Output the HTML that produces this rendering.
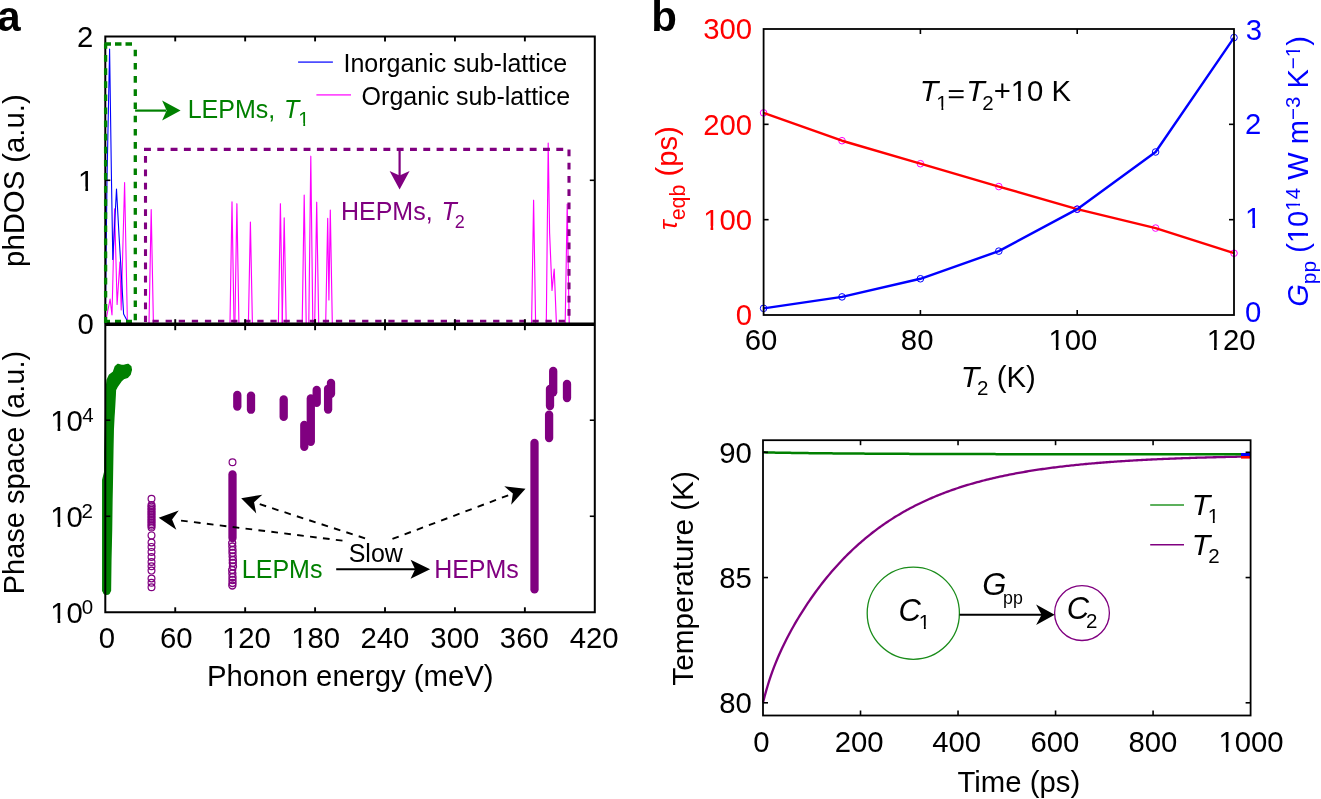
<!DOCTYPE html>
<html><head><meta charset="utf-8"><style>
html,body{margin:0;padding:0;background:#fff;overflow:hidden;}
svg{display:block;will-change:transform;}
text{font-family:"Liberation Sans",sans-serif;}
</style></head><body>
<svg width="1321" height="799" viewBox="0 0 1321 799">
<rect width="1321" height="799" fill="#fff"/>
<text x="-2.86" y="30.50" font-size="42" font-weight="bold" fill="#000" text-anchor="start">a</text>
<text x="651.27" y="30.50" font-size="42" font-weight="bold" fill="#000" text-anchor="start">b</text>
<polyline points="105.30,324.00 106.00,320.00 110.10,299.00 112.00,315.00 114.60,208.80 117.10,304.50 119.90,262.00 121.20,310.00 124.60,182.50 127.40,323.00 129.00,323.50" fill="none" stroke="#ff00ff" stroke-width="1.1" stroke-linejoin="round"/>
<polyline points="149.00,323.30 151.20,209.60 153.40,323.30" fill="none" stroke="#ff00ff" stroke-width="1.15" stroke-linejoin="round"/>
<polyline points="230.00,323.30 232.00,201.90 234.00,323.30" fill="none" stroke="#ff00ff" stroke-width="1.15" stroke-linejoin="round"/>
<polyline points="234.90,323.30 236.90,203.70 238.90,323.30" fill="none" stroke="#ff00ff" stroke-width="1.15" stroke-linejoin="round"/>
<polyline points="248.40,323.30 250.40,222.10 252.40,323.30" fill="none" stroke="#ff00ff" stroke-width="1.15" stroke-linejoin="round"/>
<polyline points="278.40,323.30 280.40,203.70 282.40,323.30" fill="none" stroke="#ff00ff" stroke-width="1.15" stroke-linejoin="round"/>
<polyline points="282.20,323.30 284.20,217.90 286.20,323.30" fill="none" stroke="#ff00ff" stroke-width="1.15" stroke-linejoin="round"/>
<polyline points="302.20,323.30 304.20,195.10 306.20,323.30" fill="none" stroke="#ff00ff" stroke-width="1.15" stroke-linejoin="round"/>
<polyline points="308.80,323.30 310.80,156.20 312.80,323.30" fill="none" stroke="#ff00ff" stroke-width="1.15" stroke-linejoin="round"/>
<polyline points="314.70,323.30 316.70,202.20 318.70,323.30" fill="none" stroke="#ff00ff" stroke-width="1.15" stroke-linejoin="round"/>
<polyline points="531.60,323.30 533.60,200.20 535.60,323.30" fill="none" stroke="#ff00ff" stroke-width="1.15" stroke-linejoin="round"/>
<polyline points="565.20,323.30 567.20,204.00 569.20,323.30" fill="none" stroke="#ff00ff" stroke-width="1.15" stroke-linejoin="round"/>
<polyline points="325.70,323.30 327.70,218.40 328.90,300.00 330.30,210.10 332.30,323.30" fill="none" stroke="#ff00ff" stroke-width="1.15" stroke-linejoin="round"/>
<polyline points="546.30,323.30 548.20,143.00 549.60,232.80 552.00,290.40 554.20,269.00 556.40,323.30" fill="none" stroke="#ff00ff" stroke-width="1.15" stroke-linejoin="round"/>
<polyline points="105.30,324.00 107.00,180.00 109.60,49.00 111.40,175.00 112.80,259.40 116.50,189.00 119.00,235.00 120.80,265.00 123.60,314.00 127.40,321.30 131.00,323.50" fill="none" stroke="#0000ff" stroke-width="1.1" stroke-linejoin="round"/>
<line x1="135.10" y1="110.60" x2="166.00" y2="110.60" stroke="#008000" stroke-width="2.2"/>
<path d="M180.60,110.60 L162.10,120.60 L166.60,110.60 L162.10,100.60 Z" fill="#008000"/>
<line x1="399.60" y1="149.00" x2="399.60" y2="176.00" stroke="#800080" stroke-width="2.2"/>
<path d="M399.60,189.60 L389.60,171.10 L399.60,175.60 L409.60,171.10 Z" fill="#800080"/>
<line x1="298.10" y1="62.10" x2="332.90" y2="62.10" stroke="#4d4dff" stroke-width="1.7"/>
<line x1="316.40" y1="94.80" x2="351.00" y2="94.80" stroke="#ff4dff" stroke-width="1.7"/>
<text x="343.49" y="72.00" font-size="25.0" fill="#000" text-anchor="start">Inorganic sub-lattice</text>
<text x="361.61" y="104.80" font-size="25.0" fill="#000" text-anchor="start">Organic sub-lattice</text>
<text x="187.64" y="117.60" font-size="25.0" fill="#008000" text-anchor="start">LEPMs, </text>
<text x="284.11" y="117.60" font-size="25.0" font-style="italic" fill="#008000" xml:space="preserve">T</text>
<text x="298.32" y="126.10" font-size="20" fill="#008000" xml:space="preserve">1</text>
<rect x="298.32" y="123.00" width="4.98" height="4.40" fill="#fff"/>
<rect x="305.14" y="123.00" width="4.18" height="4.40" fill="#fff"/>
<text x="340.94" y="219.60" font-size="25.0" fill="#800080" text-anchor="start">HEPMs, </text>
<text x="441.56" y="219.60" font-size="25.0" font-style="italic" fill="#800080" xml:space="preserve">T</text>
<text x="454.85" y="228.40" font-size="18" fill="#800080" xml:space="preserve">2</text>
<path d="M102.8,591.0 L102.8,480.0 L104.8,472.0 L104.9,452.0 L105.6,420.0 L106.0,392.0 L107.2,380.0 L109.5,375.0 L113.5,372.0 L115.4,366.5 L118.0,364.4 L121.5,365.5 L124.5,365.3 L128.0,364.4 L130.7,366.5 L131.3,369.8 L130.0,374.5 L127.5,377.2 L123.5,378.6 L121.0,381.0 L117.5,386.0 L115.4,390.0 L115.0,398.0 L114.5,407.0 L113.8,418.0 L113.2,430.0 L112.8,450.0 L112.3,480.0 L111.9,500.0 L111.5,530.0 L110.8,560.0 L110.4,591.0 Z" fill="#008000" stroke="#008000" stroke-width="1.5" stroke-linejoin="round"/>
<circle cx="106.60" cy="591.00" r="3.90" fill="#008000" stroke="none" stroke-width="0"/>
<circle cx="151.50" cy="498.70" r="3.40" fill="none" stroke="#800080" stroke-width="1.2"/>
<circle cx="151.50" cy="505.00" r="3.40" fill="none" stroke="#800080" stroke-width="1.2"/>
<circle cx="151.50" cy="506.60" r="3.40" fill="none" stroke="#800080" stroke-width="1.2"/>
<circle cx="151.50" cy="508.20" r="3.40" fill="none" stroke="#800080" stroke-width="1.2"/>
<circle cx="151.50" cy="509.80" r="3.40" fill="none" stroke="#800080" stroke-width="1.2"/>
<circle cx="151.50" cy="511.40" r="3.40" fill="none" stroke="#800080" stroke-width="1.2"/>
<circle cx="151.50" cy="513.00" r="3.40" fill="none" stroke="#800080" stroke-width="1.2"/>
<circle cx="151.50" cy="514.60" r="3.40" fill="none" stroke="#800080" stroke-width="1.2"/>
<circle cx="151.50" cy="516.20" r="3.40" fill="none" stroke="#800080" stroke-width="1.2"/>
<circle cx="151.50" cy="517.80" r="3.40" fill="none" stroke="#800080" stroke-width="1.2"/>
<circle cx="151.50" cy="519.40" r="3.40" fill="none" stroke="#800080" stroke-width="1.2"/>
<circle cx="151.50" cy="521.00" r="3.40" fill="none" stroke="#800080" stroke-width="1.2"/>
<circle cx="151.50" cy="522.60" r="3.40" fill="none" stroke="#800080" stroke-width="1.2"/>
<circle cx="151.50" cy="524.20" r="3.40" fill="none" stroke="#800080" stroke-width="1.2"/>
<circle cx="151.50" cy="525.80" r="3.40" fill="none" stroke="#800080" stroke-width="1.2"/>
<circle cx="151.50" cy="527.40" r="3.40" fill="none" stroke="#800080" stroke-width="1.2"/>
<circle cx="151.50" cy="535.40" r="3.40" fill="none" stroke="#800080" stroke-width="1.2"/>
<circle cx="151.50" cy="542.50" r="3.40" fill="none" stroke="#800080" stroke-width="1.2"/>
<circle cx="151.50" cy="546.90" r="3.40" fill="none" stroke="#800080" stroke-width="1.2"/>
<circle cx="151.50" cy="551.90" r="3.40" fill="none" stroke="#800080" stroke-width="1.2"/>
<circle cx="151.50" cy="557.00" r="3.40" fill="none" stroke="#800080" stroke-width="1.2"/>
<circle cx="151.50" cy="562.00" r="3.40" fill="none" stroke="#800080" stroke-width="1.2"/>
<circle cx="151.50" cy="566.30" r="3.40" fill="none" stroke="#800080" stroke-width="1.2"/>
<circle cx="151.50" cy="570.60" r="3.40" fill="none" stroke="#800080" stroke-width="1.2"/>
<circle cx="151.50" cy="578.50" r="3.40" fill="none" stroke="#800080" stroke-width="1.2"/>
<circle cx="151.50" cy="582.80" r="3.40" fill="none" stroke="#800080" stroke-width="1.2"/>
<circle cx="151.50" cy="587.20" r="3.40" fill="none" stroke="#800080" stroke-width="1.2"/>
<circle cx="232.50" cy="462.20" r="3.40" fill="none" stroke="#800080" stroke-width="1.2"/>
<line x1="232.50" y1="474.50" x2="232.50" y2="538.00" stroke="#800080" stroke-width="8.3" stroke-linecap="round"/>
<circle cx="232.20" cy="543.00" r="3.50" fill="none" stroke="#800080" stroke-width="1.4"/>
<circle cx="232.35" cy="546.50" r="3.50" fill="none" stroke="#800080" stroke-width="1.4"/>
<circle cx="232.50" cy="550.00" r="3.50" fill="none" stroke="#800080" stroke-width="1.4"/>
<circle cx="232.50" cy="553.00" r="3.50" fill="none" stroke="#800080" stroke-width="1.4"/>
<circle cx="232.65" cy="556.50" r="3.50" fill="none" stroke="#800080" stroke-width="1.4"/>
<circle cx="232.80" cy="560.00" r="3.50" fill="none" stroke="#800080" stroke-width="1.4"/>
<circle cx="232.80" cy="563.00" r="3.50" fill="none" stroke="#800080" stroke-width="1.4"/>
<circle cx="232.95" cy="566.50" r="3.50" fill="none" stroke="#800080" stroke-width="1.4"/>
<circle cx="232.20" cy="570.00" r="3.50" fill="none" stroke="#800080" stroke-width="1.4"/>
<circle cx="232.35" cy="573.50" r="3.50" fill="none" stroke="#800080" stroke-width="1.4"/>
<circle cx="232.50" cy="577.00" r="3.50" fill="none" stroke="#800080" stroke-width="1.4"/>
<circle cx="232.50" cy="580.00" r="3.50" fill="none" stroke="#800080" stroke-width="1.4"/>
<circle cx="232.50" cy="583.00" r="3.50" fill="none" stroke="#800080" stroke-width="1.4"/>
<circle cx="232.35" cy="585.50" r="3.50" fill="none" stroke="#800080" stroke-width="1.4"/>
<line x1="237.30" y1="395.00" x2="237.30" y2="406.60" stroke="#800080" stroke-width="8.3" stroke-linecap="round"/>
<line x1="251.00" y1="395.60" x2="251.00" y2="409.70" stroke="#800080" stroke-width="8.3" stroke-linecap="round"/>
<line x1="283.70" y1="399.50" x2="283.70" y2="416.90" stroke="#800080" stroke-width="8.3" stroke-linecap="round"/>
<line x1="304.30" y1="425.00" x2="304.30" y2="446.80" stroke="#800080" stroke-width="8.3" stroke-linecap="round"/>
<line x1="310.80" y1="398.40" x2="310.80" y2="441.80" stroke="#800080" stroke-width="8.3" stroke-linecap="round"/>
<line x1="316.70" y1="389.90" x2="316.70" y2="402.90" stroke="#800080" stroke-width="8.3" stroke-linecap="round"/>
<line x1="328.10" y1="388.80" x2="328.10" y2="409.50" stroke="#800080" stroke-width="8.3" stroke-linecap="round"/>
<line x1="331.00" y1="382.90" x2="331.00" y2="393.80" stroke="#800080" stroke-width="8.3" stroke-linecap="round"/>
<line x1="534.50" y1="442.90" x2="534.50" y2="589.40" stroke="#800080" stroke-width="8.3" stroke-linecap="round"/>
<line x1="549.10" y1="414.70" x2="549.10" y2="438.00" stroke="#800080" stroke-width="8.3" stroke-linecap="round"/>
<line x1="550.00" y1="389.00" x2="550.00" y2="406.00" stroke="#800080" stroke-width="8.3" stroke-linecap="round"/>
<line x1="553.20" y1="370.90" x2="553.20" y2="392.30" stroke="#800080" stroke-width="8.3" stroke-linecap="round"/>
<line x1="567.00" y1="384.00" x2="567.00" y2="398.00" stroke="#800080" stroke-width="8.3" stroke-linecap="round"/>
<path d="M158.70,517.80 L178.76,510.42 L172.10,519.47 L176.34,529.87 Z" fill="#000"/>
<path d="M181.03,520.58 L187.68,521.40 M193.93,522.18 L200.58,523.01 M206.83,523.79 L213.48,524.61 M219.73,525.39 L226.38,526.22 M232.63,527.00 L239.28,527.82 M245.53,528.60 L252.18,529.43 M258.43,530.21 L265.08,531.03 M271.33,531.81 L277.98,532.64 M284.23,533.42 L290.88,534.24 M297.13,535.02 L303.78,535.85 M310.03,536.63 L316.68,537.45 M322.93,538.23 L329.58,539.06 M335.83,539.84 L342.48,540.66" stroke="#000" stroke-width="1.9" fill="none"/>
<path d="M241.20,498.20 L262.30,494.73 L254.04,502.36 L256.26,513.38 Z" fill="#000"/>
<path d="M259.75,504.21 L266.13,506.27 M272.12,508.21 L278.49,510.28 M284.49,512.22 L290.86,514.28 M296.85,516.23 L303.23,518.29 M309.22,520.23 L315.59,522.30 M321.59,524.24 L327.96,526.30 M333.96,528.24 L340.33,530.31 M346.32,532.25 L352.70,534.31 M358.69,536.26 L365.06,538.32" stroke="#000" stroke-width="1.9" fill="none"/>
<path d="M525.50,488.80 L511.18,504.67 L512.87,493.56 L504.26,486.33 Z" fill="#000"/>
<path d="M508.19,495.32 L501.92,497.69 M496.02,499.91 L489.75,502.27 M483.86,504.49 L477.59,506.86 M471.69,509.08 L465.42,511.44 M459.53,513.66 L453.26,516.02 M447.36,518.25 L441.09,520.61 M435.20,522.83 L428.93,525.19 M423.03,527.41 L416.76,529.78 M410.87,532.00 L404.60,534.36 M398.70,536.58 L392.44,538.95" stroke="#000" stroke-width="1.9" fill="none"/>
<line x1="336.20" y1="569.30" x2="415.00" y2="569.30" stroke="#000" stroke-width="2"/>
<path d="M430.10,569.30 L410.60,578.80 L415.10,569.30 L410.60,559.80 Z" fill="#000"/>
<text x="348.68" y="561.70" font-size="25.0" fill="#000" text-anchor="start">Slow</text>
<text x="241.84" y="577.50" font-size="25.0" fill="#008000" text-anchor="start">LEPMs</text>
<text x="434.14" y="578.40" font-size="25.0" fill="#800080" text-anchor="start">HEPMs</text>
<path d="M104.00,321.40 L110.00,321.40 M115.00,321.40 L121.00,321.40 M126.00,321.40 L132.00,321.40" stroke="#008000" stroke-width="3.2" fill="none"/>
<path d="M152.50,321.20 L158.80,321.20 M165.60,321.20 L171.90,321.20 M178.70,321.20 L185.00,321.20 M191.80,321.20 L198.10,321.20 M204.90,321.20 L211.20,321.20 M218.00,321.20 L224.30,321.20 M231.10,321.20 L237.40,321.20 M244.20,321.20 L250.50,321.20 M257.30,321.20 L263.60,321.20 M270.40,321.20 L276.70,321.20 M283.50,321.20 L289.80,321.20 M296.60,321.20 L302.90,321.20 M309.70,321.20 L316.00,321.20 M322.80,321.20 L329.10,321.20 M335.90,321.20 L342.20,321.20 M349.00,321.20 L355.30,321.20 M362.10,321.20 L368.40,321.20 M375.20,321.20 L381.50,321.20 M388.30,321.20 L394.60,321.20 M401.40,321.20 L407.70,321.20 M414.50,321.20 L420.80,321.20 M427.60,321.20 L433.90,321.20 M440.70,321.20 L447.00,321.20 M453.80,321.20 L460.10,321.20 M466.90,321.20 L473.20,321.20 M480.00,321.20 L486.30,321.20 M493.10,321.20 L499.40,321.20 M506.20,321.20 L512.50,321.20 M519.30,321.20 L525.60,321.20 M532.40,321.20 L538.70,321.20 M545.50,321.20 L551.80,321.20 M558.60,321.20 L564.90,321.20" stroke="#800080" stroke-width="2.8" fill="none"/>
<path d="M105.3,36.4 L594.8,36.4 L594.8,612.3 L105.3,612.3 Z" fill="none" stroke="#000" stroke-width="2.0"/>
<line x1="105.30" y1="324.20" x2="594.80" y2="324.20" stroke="#000" stroke-width="3.4"/>
<line x1="175.23" y1="36.40" x2="175.23" y2="41.40" stroke="#000" stroke-width="1.9"/>
<line x1="175.23" y1="319.20" x2="175.23" y2="330.20" stroke="#000" stroke-width="1.9"/>
<line x1="175.23" y1="612.30" x2="175.23" y2="607.30" stroke="#000" stroke-width="1.9"/>
<line x1="245.16" y1="36.40" x2="245.16" y2="41.40" stroke="#000" stroke-width="1.9"/>
<line x1="245.16" y1="319.20" x2="245.16" y2="330.20" stroke="#000" stroke-width="1.9"/>
<line x1="245.16" y1="612.30" x2="245.16" y2="607.30" stroke="#000" stroke-width="1.9"/>
<line x1="315.09" y1="36.40" x2="315.09" y2="41.40" stroke="#000" stroke-width="1.9"/>
<line x1="315.09" y1="319.20" x2="315.09" y2="330.20" stroke="#000" stroke-width="1.9"/>
<line x1="315.09" y1="612.30" x2="315.09" y2="607.30" stroke="#000" stroke-width="1.9"/>
<line x1="385.01" y1="36.40" x2="385.01" y2="41.40" stroke="#000" stroke-width="1.9"/>
<line x1="385.01" y1="319.20" x2="385.01" y2="330.20" stroke="#000" stroke-width="1.9"/>
<line x1="385.01" y1="612.30" x2="385.01" y2="607.30" stroke="#000" stroke-width="1.9"/>
<line x1="454.94" y1="36.40" x2="454.94" y2="41.40" stroke="#000" stroke-width="1.9"/>
<line x1="454.94" y1="319.20" x2="454.94" y2="330.20" stroke="#000" stroke-width="1.9"/>
<line x1="454.94" y1="612.30" x2="454.94" y2="607.30" stroke="#000" stroke-width="1.9"/>
<line x1="524.87" y1="36.40" x2="524.87" y2="41.40" stroke="#000" stroke-width="1.9"/>
<line x1="524.87" y1="319.20" x2="524.87" y2="330.20" stroke="#000" stroke-width="1.9"/>
<line x1="524.87" y1="612.30" x2="524.87" y2="607.30" stroke="#000" stroke-width="1.9"/>
<line x1="105.30" y1="180.30" x2="110.30" y2="180.30" stroke="#000" stroke-width="1.6"/>
<line x1="594.80" y1="180.30" x2="589.80" y2="180.30" stroke="#000" stroke-width="1.6"/>
<line x1="105.30" y1="516.27" x2="110.30" y2="516.27" stroke="#000" stroke-width="1.6"/>
<line x1="594.80" y1="516.27" x2="589.80" y2="516.27" stroke="#000" stroke-width="1.6"/>
<line x1="105.30" y1="420.23" x2="110.30" y2="420.23" stroke="#000" stroke-width="1.6"/>
<line x1="594.80" y1="420.23" x2="589.80" y2="420.23" stroke="#000" stroke-width="1.6"/>
<path d="M105.60,44.00 L105.60,48.70 M105.60,55.10 L105.60,61.80 M105.60,68.20 L105.60,74.90 M105.60,81.30 L105.60,88.00 M105.60,94.40 L105.60,101.10 M105.60,107.50 L105.60,114.20 M105.60,120.60 L105.60,127.30 M105.60,133.70 L105.60,140.40 M105.60,146.80 L105.60,153.50 M105.60,159.90 L105.60,166.60 M105.60,173.00 L105.60,179.70 M105.60,186.10 L105.60,192.80 M105.60,199.20 L105.60,205.90 M105.60,212.30 L105.60,219.00 M105.60,225.40 L105.60,232.10 M105.60,238.50 L105.60,245.20 M105.60,251.60 L105.60,258.30 M105.60,264.70 L105.60,271.40 M105.60,277.80 L105.60,284.50 M105.60,290.90 L105.60,297.60 M105.60,304.00 L105.60,310.70 M105.60,317.10 L105.60,323.00" stroke="#008000" stroke-width="3.3" fill="none"/>
<path d="M104.50,44.00 L111.00,44.00 M115.00,44.00 L121.50,44.00 M125.50,44.00 L132.00,44.00" stroke="#008000" stroke-width="3.3" fill="none"/>
<path d="M135.30,49.70 L135.30,56.30 M135.30,62.90 L135.30,69.50 M135.30,76.10 L135.30,82.70 M135.30,89.30 L135.30,95.90 M135.30,102.50 L135.30,109.10 M135.30,115.70 L135.30,122.30 M135.30,128.90 L135.30,135.50 M135.30,142.10 L135.30,148.70 M135.30,155.30 L135.30,161.90 M135.30,168.50 L135.30,175.10 M135.30,181.70 L135.30,188.30 M135.30,194.90 L135.30,201.50 M135.30,208.10 L135.30,214.70 M135.30,221.30 L135.30,227.90 M135.30,234.50 L135.30,241.10 M135.30,247.70 L135.30,254.30 M135.30,260.90 L135.30,267.50 M135.30,274.10 L135.30,280.70 M135.30,287.30 L135.30,293.90 M135.30,300.50 L135.30,307.10 M135.30,313.70 L135.30,320.30" stroke="#008000" stroke-width="3.3" fill="none"/>
<path d="M144.00,149.40 L150.90,149.40 M157.30,149.40 L164.20,149.40 M170.60,149.40 L177.50,149.40 M183.90,149.40 L190.80,149.40 M197.20,149.40 L204.10,149.40 M210.50,149.40 L217.40,149.40 M223.80,149.40 L230.70,149.40 M237.10,149.40 L244.00,149.40 M250.40,149.40 L257.30,149.40 M263.70,149.40 L270.60,149.40 M277.00,149.40 L283.90,149.40 M290.30,149.40 L297.20,149.40 M303.60,149.40 L310.50,149.40 M316.90,149.40 L323.80,149.40 M330.20,149.40 L337.10,149.40 M343.50,149.40 L350.40,149.40 M356.80,149.40 L363.70,149.40 M370.10,149.40 L377.00,149.40 M383.40,149.40 L390.30,149.40 M396.70,149.40 L403.60,149.40 M410.00,149.40 L416.90,149.40 M423.30,149.40 L430.20,149.40 M436.60,149.40 L443.50,149.40 M449.90,149.40 L456.80,149.40 M463.20,149.40 L470.10,149.40 M476.50,149.40 L483.40,149.40 M489.80,149.40 L496.70,149.40 M503.10,149.40 L510.00,149.40 M516.40,149.40 L523.30,149.40 M529.70,149.40 L536.60,149.40 M543.00,149.40 L549.90,149.40 M556.30,149.40 L563.20,149.40" stroke="#800080" stroke-width="3.1" fill="none"/>
<path d="M145.50,156.10 L145.50,162.85 M145.50,169.40 L145.50,176.15 M145.50,182.70 L145.50,189.45 M145.50,196.00 L145.50,202.75 M145.50,209.30 L145.50,216.05 M145.50,222.60 L145.50,229.35 M145.50,235.90 L145.50,242.65 M145.50,249.20 L145.50,255.95 M145.50,262.50 L145.50,269.25 M145.50,275.80 L145.50,282.55 M145.50,289.10 L145.50,295.85 M145.50,302.40 L145.50,309.15 M145.50,315.70 L145.50,322.00" stroke="#800080" stroke-width="3.1" fill="none"/>
<path d="M569.00,149.40 L569.00,156.15 M569.00,162.70 L569.00,169.45 M569.00,176.00 L569.00,182.75 M569.00,189.30 L569.00,196.05 M569.00,202.60 L569.00,209.35 M569.00,215.90 L569.00,222.65 M569.00,229.20 L569.00,235.95 M569.00,242.50 L569.00,249.25 M569.00,255.80 L569.00,262.55 M569.00,269.10 L569.00,275.85 M569.00,282.40 L569.00,289.15 M569.00,295.70 L569.00,302.45 M569.00,309.00 L569.00,315.75" stroke="#800080" stroke-width="3.1" fill="none"/>
<text x="76.97" y="46.70" font-size="29.3" fill="#000" text-anchor="start">2</text>
<text x="78.07" y="190.50" font-size="29.3" fill="#000" text-anchor="start">1</text>
<rect x="78.07" y="186.52" width="7.30" height="5.28" fill="#fff"/>
<rect x="88.06" y="186.52" width="6.12" height="5.28" fill="#fff"/>
<text x="77.43" y="334.10" font-size="29.3" fill="#000" text-anchor="start">0</text>
<text x="50.30" y="622.70" font-size="29.3" fill="#000" text-anchor="start">10</text>
<rect x="50.30" y="618.72" width="7.30" height="5.28" fill="#fff"/>
<rect x="60.29" y="618.72" width="6.12" height="5.28" fill="#fff"/>
<text x="81.78" y="614.30" font-size="20.5" fill="#000" text-anchor="start">0</text>
<text x="50.30" y="526.67" font-size="29.3" fill="#000" text-anchor="start">10</text>
<rect x="50.30" y="522.68" width="7.30" height="5.28" fill="#fff"/>
<rect x="60.29" y="522.68" width="6.12" height="5.28" fill="#fff"/>
<text x="81.57" y="518.27" font-size="20.5" fill="#000" text-anchor="start">2</text>
<text x="50.30" y="430.63" font-size="29.3" fill="#000" text-anchor="start">10</text>
<rect x="50.30" y="426.65" width="7.30" height="5.28" fill="#fff"/>
<rect x="60.29" y="426.65" width="6.12" height="5.28" fill="#fff"/>
<text x="82.14" y="422.23" font-size="20.5" fill="#000" text-anchor="start">4</text>
<text x="98.83" y="647.90" font-size="29.3" fill="#000" text-anchor="start">0</text>
<text x="160.06" y="647.90" font-size="29.3" fill="#000" text-anchor="start">60</text>
<text x="221.92" y="647.90" font-size="29.3" fill="#000" text-anchor="start">120</text>
<rect x="221.92" y="643.92" width="7.30" height="5.28" fill="#fff"/>
<rect x="231.91" y="643.92" width="6.12" height="5.28" fill="#fff"/>
<text x="291.22" y="647.90" font-size="29.3" fill="#000" text-anchor="start">180</text>
<rect x="291.22" y="643.92" width="7.30" height="5.28" fill="#fff"/>
<rect x="301.21" y="643.92" width="6.12" height="5.28" fill="#fff"/>
<text x="360.49" y="647.90" font-size="29.3" fill="#000" text-anchor="start">240</text>
<text x="430.37" y="647.90" font-size="29.3" fill="#000" text-anchor="start">300</text>
<text x="499.87" y="647.90" font-size="29.3" fill="#000" text-anchor="start">360</text>
<text x="569.79" y="647.90" font-size="29.3" fill="#000" text-anchor="start">420</text>
<text x="23.80" y="266.90" font-size="29.3" fill="#000" text-anchor="start" transform="rotate(-90 23.80 266.90)">phDOS (a.u.)</text>
<text x="24.10" y="594.29" font-size="29.0" fill="#000" text-anchor="start" transform="rotate(-90 24.10 594.29)">Phase space (a.u.)</text>
<text x="206.98" y="686.00" font-size="29.3" fill="#000" text-anchor="start">Phonon energy (meV)</text>
<circle cx="763.60" cy="112.89" r="3.30" fill="none" stroke="#ff00ff" stroke-width="1.0"/>
<circle cx="842.00" cy="140.73" r="3.30" fill="none" stroke="#ff00ff" stroke-width="1.0"/>
<circle cx="920.40" cy="163.71" r="3.30" fill="none" stroke="#ff00ff" stroke-width="1.0"/>
<circle cx="998.80" cy="186.59" r="3.30" fill="none" stroke="#ff00ff" stroke-width="1.0"/>
<circle cx="1077.20" cy="209.18" r="3.30" fill="none" stroke="#ff00ff" stroke-width="1.0"/>
<circle cx="1155.60" cy="228.06" r="3.30" fill="none" stroke="#ff00ff" stroke-width="1.0"/>
<circle cx="1234.00" cy="253.22" r="3.30" fill="none" stroke="#ff00ff" stroke-width="1.0"/>
<circle cx="763.60" cy="308.33" r="3.30" fill="none" stroke="#0000ff" stroke-width="1.0"/>
<circle cx="842.00" cy="296.89" r="3.30" fill="none" stroke="#0000ff" stroke-width="1.0"/>
<circle cx="920.40" cy="278.77" r="3.30" fill="none" stroke="#0000ff" stroke-width="1.0"/>
<circle cx="998.80" cy="251.13" r="3.30" fill="none" stroke="#0000ff" stroke-width="1.0"/>
<circle cx="1077.20" cy="209.18" r="3.30" fill="none" stroke="#0000ff" stroke-width="1.0"/>
<circle cx="1155.60" cy="151.98" r="3.30" fill="none" stroke="#0000ff" stroke-width="1.0"/>
<circle cx="1234.00" cy="37.58" r="3.30" fill="none" stroke="#0000ff" stroke-width="1.0"/>
<polyline points="763.60,112.89 842.00,140.73 920.40,163.71 998.80,186.59 1077.20,209.18 1155.60,228.06 1234.00,253.22" fill="none" stroke="#ff0000" stroke-width="2.4" stroke-linejoin="round"/>
<polyline points="763.60,308.33 842.00,296.89 920.40,278.77 998.80,251.13 1077.20,209.18 1155.60,151.98 1234.00,37.58" fill="none" stroke="#0000ff" stroke-width="2.4" stroke-linejoin="round"/>
<rect x="763.6" y="29.0" width="470.4" height="286.0" fill="none" stroke="#000" stroke-width="1.8"/>
<line x1="920.40" y1="315.00" x2="920.40" y2="310.00" stroke="#000" stroke-width="1.6"/>
<line x1="920.40" y1="29.00" x2="920.40" y2="34.00" stroke="#000" stroke-width="1.6"/>
<line x1="1077.20" y1="315.00" x2="1077.20" y2="310.00" stroke="#000" stroke-width="1.6"/>
<line x1="1077.20" y1="29.00" x2="1077.20" y2="34.00" stroke="#000" stroke-width="1.6"/>
<line x1="763.60" y1="219.67" x2="768.60" y2="219.67" stroke="#000" stroke-width="1.6"/>
<line x1="1234.00" y1="219.67" x2="1229.00" y2="219.67" stroke="#000" stroke-width="1.6"/>
<line x1="763.60" y1="124.33" x2="768.60" y2="124.33" stroke="#000" stroke-width="1.6"/>
<line x1="1234.00" y1="124.33" x2="1229.00" y2="124.33" stroke="#000" stroke-width="1.6"/>
<text x="735.84" y="325.20" font-size="29.3" fill="#ff0000" text-anchor="start">0</text>
<text x="703.24" y="229.87" font-size="29.3" fill="#ff0000" text-anchor="start">100</text>
<rect x="703.24" y="225.88" width="7.30" height="5.28" fill="#fff"/>
<rect x="713.23" y="225.88" width="6.12" height="5.28" fill="#fff"/>
<text x="703.24" y="134.53" font-size="29.3" fill="#ff0000" text-anchor="start">200</text>
<text x="703.24" y="39.20" font-size="29.3" fill="#ff0000" text-anchor="start">300</text>
<text x="1245.65" y="40.20" font-size="29.3" fill="#0000ff" text-anchor="start">3</text>
<text x="1245.04" y="133.75" font-size="29.3" fill="#0000ff" text-anchor="start">2</text>
<text x="1245.09" y="227.60" font-size="29.3" fill="#0000ff" text-anchor="start">1</text>
<rect x="1245.09" y="223.62" width="7.30" height="5.28" fill="#fff"/>
<rect x="1255.08" y="223.62" width="6.12" height="5.28" fill="#fff"/>
<text x="1245.03" y="321.70" font-size="29.3" fill="#0000ff" text-anchor="start">0</text>
<text x="744.66" y="350.20" font-size="29.3" fill="#000" text-anchor="start">60</text>
<text x="900.87" y="350.20" font-size="29.3" fill="#000" text-anchor="start">80</text>
<text x="1048.52" y="350.20" font-size="29.3" fill="#000" text-anchor="start">100</text>
<rect x="1048.52" y="346.22" width="7.30" height="5.28" fill="#fff"/>
<rect x="1058.51" y="346.22" width="6.12" height="5.28" fill="#fff"/>
<text x="1206.72" y="350.20" font-size="29.3" fill="#000" text-anchor="start">120</text>
<rect x="1206.72" y="346.22" width="7.30" height="5.28" fill="#fff"/>
<rect x="1216.71" y="346.22" width="6.12" height="5.28" fill="#fff"/>
<text x="960.77" y="386.90" font-size="30.3" font-style="italic" fill="#000" text-anchor="start">T</text>
<text x="976.88" y="395.00" font-size="20.5" fill="#000" text-anchor="start">2</text>
<text x="996.77" y="386.90" font-size="29.3" fill="#000" text-anchor="start">(K)</text>
<text x="919.67" y="101.30" font-size="30.3" font-style="italic" fill="#000" text-anchor="start">T</text>
<text x="936.35" y="109.70" font-size="20.5" fill="#000" text-anchor="start">1</text>
<rect x="936.35" y="106.55" width="5.10" height="4.45" fill="#fff"/>
<rect x="943.34" y="106.55" width="4.28" height="4.45" fill="#fff"/>
<rect x="948.80" y="90.10" width="14.80" height="1.90" fill="#000"/>
<rect x="948.80" y="96.30" width="14.80" height="1.90" fill="#000"/>
<text x="966.27" y="101.30" font-size="30.3" font-style="italic" fill="#000" text-anchor="start">T</text>
<text x="982.18" y="110.00" font-size="20.5" fill="#000" text-anchor="start">2</text>
<text x="993.71" y="101.20" font-size="29.3" fill="#000" text-anchor="start">+10 K</text>
<rect x="1010.82" y="97.22" width="7.30" height="5.28" fill="#fff"/>
<rect x="1020.81" y="97.22" width="6.12" height="5.28" fill="#fff"/>
<text x="677.00" y="229.97" font-size="26" font-style="italic" fill="#ff0000" xml:space="preserve" transform="rotate(-90 677.00 229.97)">τ</text>
<text x="686.72" y="238.07" font-size="21.3" fill="#ff0000" xml:space="preserve" transform="rotate(-90 677.00 229.97)">eqb</text>
<text x="722.26" y="229.97" font-size="29.3" fill="#ff0000" xml:space="preserve" transform="rotate(-90 677.00 229.97)"> (ps)</text>
<text x="1308.30" y="306.85" font-size="29.1" font-style="italic" fill="#0000ff" xml:space="preserve" transform="rotate(-90 1308.30 306.85)">G</text>
<text x="1330.94" y="314.65" font-size="21" fill="#0000ff" xml:space="preserve" transform="rotate(-90 1308.30 306.85)">pp</text>
<text x="1354.29" y="306.85" font-size="29.1" fill="#0000ff" xml:space="preserve" transform="rotate(-90 1308.30 306.85)"> (10</text>
<rect x="1372.07" y="302.89" width="7.25" height="5.26" fill="#fff" transform="rotate(-90 1308.30 306.85)"/>
<rect x="1381.99" y="302.89" width="6.08" height="5.26" fill="#fff" transform="rotate(-90 1308.30 306.85)"/>
<text x="1404.44" y="298.25" font-size="20.5" fill="#0000ff" xml:space="preserve" transform="rotate(-90 1308.30 306.85)">14</text>
<rect x="1404.44" y="295.11" width="5.10" height="4.45" fill="#fff" transform="rotate(-90 1308.30 306.85)"/>
<rect x="1411.43" y="295.11" width="4.28" height="4.45" fill="#fff" transform="rotate(-90 1308.30 306.85)"/>
<text x="1427.24" y="306.85" font-size="29.1" fill="#0000ff" xml:space="preserve" transform="rotate(-90 1308.30 306.85)"> W m</text>
<text x="1495.12" y="298.25" font-size="20.5" fill="#0000ff" xml:space="preserve" transform="rotate(-90 1308.30 306.85)">−3</text>
<text x="1518.49" y="306.85" font-size="29.1" fill="#0000ff" xml:space="preserve" transform="rotate(-90 1308.30 306.85)"> K</text>
<text x="1545.99" y="298.25" font-size="20.5" fill="#0000ff" xml:space="preserve" transform="rotate(-90 1308.30 306.85)">−1</text>
<rect x="1557.96" y="295.11" width="5.10" height="4.45" fill="#fff" transform="rotate(-90 1308.30 306.85)"/>
<rect x="1564.95" y="295.11" width="4.28" height="4.45" fill="#fff" transform="rotate(-90 1308.30 306.85)"/>
<text x="1569.36" y="306.85" font-size="29.1" fill="#0000ff" xml:space="preserve" transform="rotate(-90 1308.30 306.85)">)</text>
<polyline points="763.00,702.80 764.60,696.47 766.20,690.63 767.80,685.21 769.39,680.15 770.99,675.41 772.59,670.92 774.19,666.68 775.79,662.63 777.39,658.76 778.99,655.05 780.59,651.48 782.18,648.03 783.78,644.69 785.38,641.45 786.98,638.30 788.58,635.23 790.18,632.24 791.78,629.32 793.37,626.47 794.97,623.68 796.57,620.94 798.17,618.26 799.77,615.63 801.37,613.05 802.97,610.52 804.57,608.03 806.16,605.59 807.76,603.19 809.36,600.83 810.96,598.52 812.56,596.24 814.16,593.99 815.76,591.79 817.35,589.62 818.95,587.49 820.55,585.39 822.15,583.32 823.75,581.29 825.35,579.29 826.95,577.33 828.55,575.39 830.14,573.49 831.74,571.61 833.34,569.77 834.94,567.95 836.54,566.17 838.14,564.41 839.74,562.68 841.33,560.97 842.93,559.30 844.53,557.65 846.13,556.02 847.73,554.43 849.33,552.85 850.93,551.31 852.53,549.78 854.12,548.28 855.72,546.81 857.32,545.35 858.92,543.93 860.52,542.52 862.12,541.13 863.72,539.77 865.31,538.43 866.91,537.11 868.51,535.81 870.11,534.53 871.71,533.27 873.31,532.03 874.91,530.81 876.51,529.61 878.10,528.43 879.70,527.27 881.30,526.12 882.90,525.00 884.50,523.89 886.10,522.80 887.70,521.72 889.29,520.66 890.89,519.62 892.49,518.60 894.09,517.59 895.69,516.60 897.29,515.62 898.89,514.66 900.48,513.72 902.08,512.79 903.68,511.87 905.28,510.97 906.88,510.08 908.48,509.21 910.08,508.35 911.68,507.50 913.27,506.67 914.87,505.85 916.47,505.04 918.07,504.25 919.67,503.46 921.27,502.70 922.87,501.94 924.46,501.19 926.06,500.46 927.66,499.74 929.26,499.03 930.86,498.33 932.46,497.64 934.06,496.96 935.66,496.29 937.25,495.64 938.85,494.99 940.45,494.36 942.05,493.73 943.65,493.11 945.25,492.51 946.85,491.91 948.44,491.32 950.04,490.75 951.64,490.18 953.24,489.62 954.84,489.07 956.44,488.52 958.04,487.99 959.64,487.46 961.23,486.95 962.83,486.44 964.43,485.94 966.03,485.44 967.63,484.96 969.23,484.48 970.83,484.01 972.42,483.55 974.02,483.09 975.62,482.64 977.22,482.20 978.82,481.77 980.42,481.34 982.02,480.92 983.62,480.50 985.21,480.10 986.81,479.70 988.41,479.30 990.01,478.91 991.61,478.53 993.21,478.15 994.81,477.78 996.40,477.42 998.00,477.06 999.60,476.71 1001.20,476.36 1002.80,476.02 1004.40,475.68 1006.00,475.35 1007.60,475.02 1009.19,474.70 1010.79,474.38 1012.39,474.07 1013.99,473.77 1015.59,473.47 1017.19,473.17 1018.79,472.88 1020.38,472.59 1021.98,472.31 1023.58,472.03 1025.18,471.75 1026.78,471.49 1028.38,471.22 1029.98,470.96 1031.58,470.70 1033.17,470.45 1034.77,470.20 1036.37,469.95 1037.97,469.71 1039.57,469.48 1041.17,469.24 1042.77,469.01 1044.36,468.78 1045.96,468.56 1047.56,468.34 1049.16,468.13 1050.76,467.91 1052.36,467.71 1053.96,467.50 1055.56,467.30 1057.15,467.10 1058.75,466.90 1060.35,466.71 1061.95,466.52 1063.55,466.33 1065.15,466.15 1066.75,465.97 1068.34,465.79 1069.94,465.61 1071.54,465.44 1073.14,465.27 1074.74,465.10 1076.34,464.94 1077.94,464.77 1079.54,464.61 1081.13,464.46 1082.73,464.30 1084.33,464.15 1085.93,464.00 1087.53,463.85 1089.13,463.71 1090.73,463.56 1092.32,463.42 1093.92,463.29 1095.52,463.15 1097.12,463.02 1098.72,462.88 1100.32,462.75 1101.92,462.63 1103.52,462.50 1105.11,462.38 1106.71,462.25 1108.31,462.13 1109.91,462.02 1111.51,461.90 1113.11,461.79 1114.71,461.67 1116.30,461.56 1117.90,461.45 1119.50,461.35 1121.10,461.24 1122.70,461.14 1124.30,461.03 1125.90,460.93 1127.49,460.83 1129.09,460.74 1130.69,460.64 1132.29,460.55 1133.89,460.45 1135.49,460.36 1137.09,460.27 1138.69,460.18 1140.28,460.10 1141.88,460.01 1143.48,459.92 1145.08,459.84 1146.68,459.76 1148.28,459.68 1149.88,459.60 1151.47,459.52 1153.07,459.44 1154.67,459.37 1156.27,459.29 1157.87,459.22 1159.47,459.15 1161.07,459.08 1162.67,459.01 1164.26,458.94 1165.86,458.87 1167.46,458.81 1169.06,458.74 1170.66,458.67 1172.26,458.61 1173.86,458.55 1175.45,458.49 1177.05,458.43 1178.65,458.37 1180.25,458.31 1181.85,458.25 1183.45,458.19 1185.05,458.14 1186.65,458.08 1188.24,458.03 1189.84,457.98 1191.44,457.92 1193.04,457.87 1194.64,457.82 1196.24,457.77 1197.84,457.72 1199.43,457.67 1201.03,457.62 1202.63,457.58 1204.23,457.53 1205.83,457.49 1207.43,457.44 1209.03,457.40 1210.63,457.35 1212.22,457.31 1213.82,457.27 1215.42,457.23 1217.02,457.19 1218.62,457.15 1220.22,457.11 1221.82,457.07 1223.41,457.03 1225.01,456.99 1226.61,456.96 1228.21,456.92 1229.81,456.88 1231.41,456.85 1233.01,456.81 1234.61,456.78 1236.20,456.75 1237.80,456.71 1239.40,456.68 1241.00,456.65" fill="none" stroke="#800080" stroke-width="2.3" stroke-linejoin="round"/>
<polyline points="763.00,452.30 764.60,452.35 766.20,452.40 767.80,452.44 769.39,452.48 770.99,452.52 772.59,452.56 774.19,452.59 775.79,452.63 777.39,452.66 778.99,452.69 780.59,452.72 782.18,452.74 783.78,452.77 785.38,452.80 786.98,452.82 788.58,452.85 790.18,452.87 791.78,452.90 793.37,452.92 794.97,452.94 796.57,452.96 798.17,452.98 799.77,453.01 801.37,453.03 802.97,453.05 804.57,453.07 806.16,453.09 807.76,453.11 809.36,453.13 810.96,453.14 812.56,453.16 814.16,453.18 815.76,453.20 817.35,453.22 818.95,453.23 820.55,453.25 822.15,453.27 823.75,453.28 825.35,453.30 826.95,453.32 828.55,453.33 830.14,453.35 831.74,453.36 833.34,453.38 834.94,453.39 836.54,453.41 838.14,453.42 839.74,453.43 841.33,453.45 842.93,453.46 844.53,453.48 846.13,453.49 847.73,453.50 849.33,453.51 850.93,453.53 852.53,453.54 854.12,453.55 855.72,453.56 857.32,453.58 858.92,453.59 860.52,453.60 862.12,453.61 863.72,453.62 865.31,453.63 866.91,453.64 868.51,453.65 870.11,453.66 871.71,453.67 873.31,453.68 874.91,453.69 876.51,453.70 878.10,453.71 879.70,453.72 881.30,453.73 882.90,453.74 884.50,453.75 886.10,453.76 887.70,453.77 889.29,453.78 890.89,453.78 892.49,453.79 894.09,453.80 895.69,453.81 897.29,453.82 898.89,453.82 900.48,453.83 902.08,453.84 903.68,453.85 905.28,453.85 906.88,453.86 908.48,453.87 910.08,453.88 911.68,453.88 913.27,453.89 914.87,453.90 916.47,453.90 918.07,453.91 919.67,453.91 921.27,453.92 922.87,453.93 924.46,453.93 926.06,453.94 927.66,453.94 929.26,453.95 930.86,453.96 932.46,453.96 934.06,453.97 935.66,453.97 937.25,453.98 938.85,453.98 940.45,453.99 942.05,453.99 943.65,454.00 945.25,454.00 946.85,454.01 948.44,454.01 950.04,454.02 951.64,454.02 953.24,454.03 954.84,454.03 956.44,454.04 958.04,454.04 959.64,454.04 961.23,454.05 962.83,454.05 964.43,454.06 966.03,454.06 967.63,454.06 969.23,454.07 970.83,454.07 972.42,454.08 974.02,454.08 975.62,454.08 977.22,454.09 978.82,454.09 980.42,454.09 982.02,454.10 983.62,454.10 985.21,454.10 986.81,454.11 988.41,454.11 990.01,454.11 991.61,454.12 993.21,454.12 994.81,454.12 996.40,454.13 998.00,454.13 999.60,454.13 1001.20,454.13 1002.80,454.14 1004.40,454.14 1006.00,454.14 1007.60,454.15 1009.19,454.15 1010.79,454.15 1012.39,454.15 1013.99,454.16 1015.59,454.16 1017.19,454.16 1018.79,454.16 1020.38,454.16 1021.98,454.17 1023.58,454.17 1025.18,454.17 1026.78,454.17 1028.38,454.18 1029.98,454.18 1031.58,454.18 1033.17,454.18 1034.77,454.18 1036.37,454.19 1037.97,454.19 1039.57,454.19 1041.17,454.19 1042.77,454.19 1044.36,454.20 1045.96,454.20 1047.56,454.20 1049.16,454.20 1050.76,454.20 1052.36,454.20 1053.96,454.21 1055.56,454.21 1057.15,454.21 1058.75,454.21 1060.35,454.21 1061.95,454.21 1063.55,454.22 1065.15,454.22 1066.75,454.22 1068.34,454.22 1069.94,454.22 1071.54,454.22 1073.14,454.22 1074.74,454.23 1076.34,454.23 1077.94,454.23 1079.54,454.23 1081.13,454.23 1082.73,454.23 1084.33,454.23 1085.93,454.23 1087.53,454.24 1089.13,454.24 1090.73,454.24 1092.32,454.24 1093.92,454.24 1095.52,454.24 1097.12,454.24 1098.72,454.24 1100.32,454.24 1101.92,454.25 1103.52,454.25 1105.11,454.25 1106.71,454.25 1108.31,454.25 1109.91,454.25 1111.51,454.25 1113.11,454.25 1114.71,454.25 1116.30,454.25 1117.90,454.25 1119.50,454.26 1121.10,454.26 1122.70,454.26 1124.30,454.26 1125.90,454.26 1127.49,454.26 1129.09,454.26 1130.69,454.26 1132.29,454.26 1133.89,454.26 1135.49,454.26 1137.09,454.26 1138.69,454.27 1140.28,454.27 1141.88,454.27 1143.48,454.27 1145.08,454.27 1146.68,454.27 1148.28,454.27 1149.88,454.27 1151.47,454.27 1153.07,454.27 1154.67,454.27 1156.27,454.27 1157.87,454.27 1159.47,454.27 1161.07,454.27 1162.67,454.27 1164.26,454.28 1165.86,454.28 1167.46,454.28 1169.06,454.28 1170.66,454.28 1172.26,454.28 1173.86,454.28 1175.45,454.28 1177.05,454.28 1178.65,454.28 1180.25,454.28 1181.85,454.28 1183.45,454.28 1185.05,454.28 1186.65,454.28 1188.24,454.28 1189.84,454.28 1191.44,454.28 1193.04,454.28 1194.64,454.28 1196.24,454.28 1197.84,454.29 1199.43,454.29 1201.03,454.29 1202.63,454.29 1204.23,454.29 1205.83,454.29 1207.43,454.29 1209.03,454.29 1210.63,454.29 1212.22,454.29 1213.82,454.29 1215.42,454.29 1217.02,454.29 1218.62,454.29 1220.22,454.29 1221.82,454.29 1223.41,454.29 1225.01,454.29 1226.61,454.29 1228.21,454.29 1229.81,454.29 1231.41,454.29 1233.01,454.29 1234.61,454.29 1236.20,454.29 1237.80,454.29 1239.40,454.29 1241.00,454.29" fill="none" stroke="#008000" stroke-width="2.5" stroke-linejoin="round"/>
<rect x="1241.00" y="453.00" width="9.00" height="3.00" fill="#0000ff"/>
<rect x="1241.00" y="456.00" width="9.00" height="2.60" fill="#ff0000"/>
<rect x="763.0" y="440.2" width="487.5999999999999" height="275.3" fill="none" stroke="#000" stroke-width="1.8"/>
<line x1="860.52" y1="715.50" x2="860.52" y2="710.50" stroke="#000" stroke-width="1.6"/>
<line x1="860.52" y1="440.20" x2="860.52" y2="445.20" stroke="#000" stroke-width="1.6"/>
<line x1="958.04" y1="715.50" x2="958.04" y2="710.50" stroke="#000" stroke-width="1.6"/>
<line x1="958.04" y1="440.20" x2="958.04" y2="445.20" stroke="#000" stroke-width="1.6"/>
<line x1="1055.56" y1="715.50" x2="1055.56" y2="710.50" stroke="#000" stroke-width="1.6"/>
<line x1="1055.56" y1="440.20" x2="1055.56" y2="445.20" stroke="#000" stroke-width="1.6"/>
<line x1="1153.08" y1="715.50" x2="1153.08" y2="710.50" stroke="#000" stroke-width="1.6"/>
<line x1="1153.08" y1="440.20" x2="1153.08" y2="445.20" stroke="#000" stroke-width="1.6"/>
<line x1="763.00" y1="702.80" x2="768.00" y2="702.80" stroke="#000" stroke-width="1.6"/>
<line x1="1250.60" y1="702.80" x2="1245.60" y2="702.80" stroke="#000" stroke-width="1.6"/>
<text x="719.18" y="713.00" font-size="29.3" fill="#000" text-anchor="start">80</text>
<line x1="763.00" y1="577.55" x2="768.00" y2="577.55" stroke="#000" stroke-width="1.6"/>
<line x1="1250.60" y1="577.55" x2="1245.60" y2="577.55" stroke="#000" stroke-width="1.6"/>
<text x="719.25" y="587.75" font-size="29.3" fill="#000" text-anchor="start">85</text>
<line x1="763.00" y1="452.30" x2="768.00" y2="452.30" stroke="#000" stroke-width="1.6"/>
<line x1="1250.60" y1="452.30" x2="1245.60" y2="452.30" stroke="#000" stroke-width="1.6"/>
<text x="719.18" y="462.50" font-size="29.3" fill="#000" text-anchor="start">90</text>
<text x="753.13" y="751.80" font-size="29.3" fill="#000" text-anchor="start">0</text>
<text x="834.69" y="751.80" font-size="29.3" fill="#000" text-anchor="start">200</text>
<text x="932.29" y="751.80" font-size="29.3" fill="#000" text-anchor="start">400</text>
<text x="1030.39" y="751.80" font-size="29.3" fill="#000" text-anchor="start">600</text>
<text x="1128.50" y="751.80" font-size="29.3" fill="#000" text-anchor="start">800</text>
<text x="1218.49" y="751.80" font-size="29.3" fill="#000" text-anchor="start">1000</text>
<rect x="1218.49" y="747.82" width="7.30" height="5.28" fill="#fff"/>
<rect x="1228.48" y="747.82" width="6.12" height="5.28" fill="#fff"/>
<text x="957.54" y="792.40" font-size="29.3" fill="#000" text-anchor="start">Time (ps)</text>
<text x="693.00" y="685.67" font-size="29.7" fill="#000" text-anchor="start" transform="rotate(-90 693.00 685.67)">Temperature (K)</text>
<line x1="1150.20" y1="505.00" x2="1184.00" y2="505.00" stroke="#5cb05c" stroke-width="2.0"/>
<line x1="1150.20" y1="544.70" x2="1184.00" y2="544.70" stroke="#800080" stroke-width="1.4"/>
<text x="1191.67" y="514.80" font-size="30.3" font-style="italic" fill="#000" text-anchor="start">T</text>
<text x="1207.75" y="522.60" font-size="20.5" fill="#000" text-anchor="start">1</text>
<rect x="1207.75" y="519.45" width="5.10" height="4.45" fill="#fff"/>
<rect x="1214.74" y="519.45" width="4.28" height="4.45" fill="#fff"/>
<text x="1191.67" y="554.90" font-size="30.3" font-style="italic" fill="#000" text-anchor="start">T</text>
<text x="1208.35" y="563.00" font-size="20.5" fill="#000" text-anchor="start">2</text>
<circle cx="913.30" cy="613.20" r="46.10" fill="none" stroke="#1a8c1a" stroke-width="1.3"/>
<circle cx="1082.00" cy="613.10" r="27.40" fill="none" stroke="#800080" stroke-width="1.3"/>
<line x1="959.60" y1="614.80" x2="1042.00" y2="614.80" stroke="#000" stroke-width="2.0"/>
<path d="M1054.70,614.80 L1036.10,625.10 L1041.60,614.80 L1036.10,604.50 Z" fill="#000"/>
<text x="898.39" y="620.70" font-size="31" font-style="italic" fill="#000" text-anchor="start">C</text>
<text x="918.80" y="628.90" font-size="20.5" fill="#000" text-anchor="start">1</text>
<rect x="918.80" y="625.75" width="5.10" height="4.45" fill="#fff"/>
<rect x="925.79" y="625.75" width="4.28" height="4.45" fill="#fff"/>
<text x="1066.70" y="619.30" font-size="31" font-style="italic" fill="#000" text-anchor="start">C</text>
<text x="1085.97" y="627.80" font-size="20.5" fill="#000" text-anchor="start">2</text>
<text x="982.35" y="595.30" font-size="31" font-style="italic" fill="#000" text-anchor="start">G</text>
<text x="1003.09" y="604.20" font-size="17.8" fill="#000" text-anchor="start">pp</text>
</svg>
</body></html>
